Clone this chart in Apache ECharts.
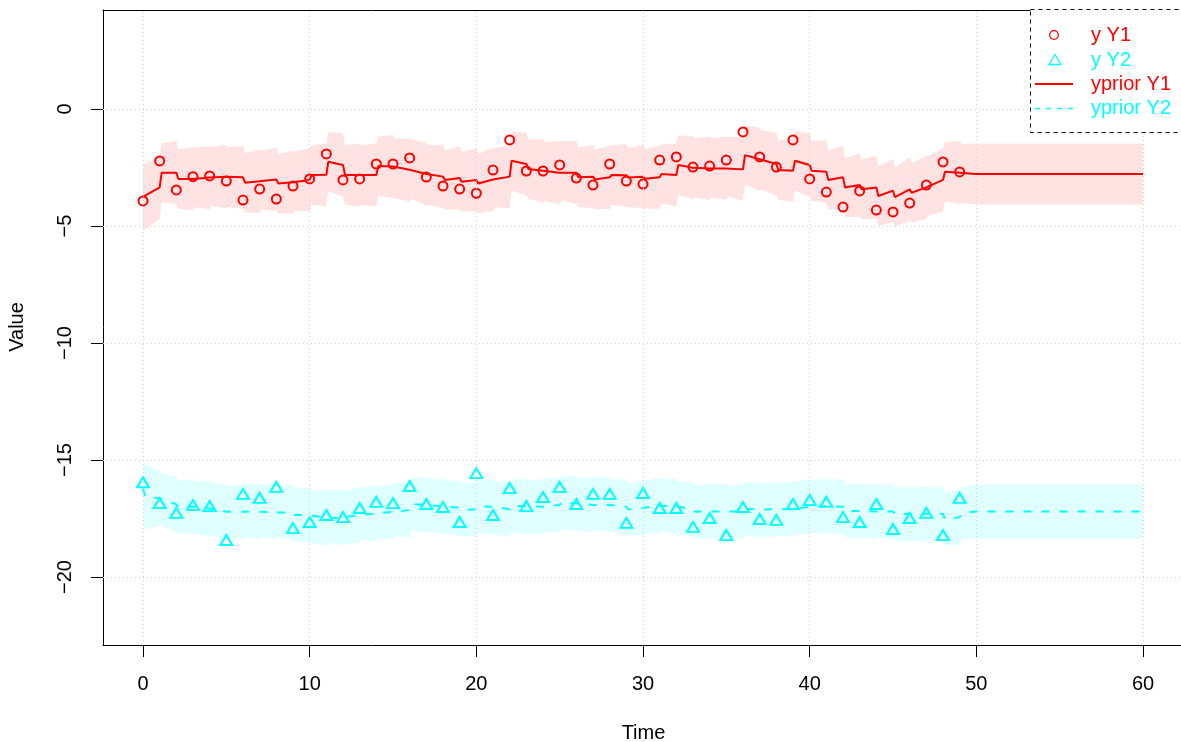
<!DOCTYPE html>
<html>
<head>
<meta charset="utf-8">
<script src="https://cdn.jsdelivr.net/npm/echarts@6/dist/echarts.min.js"></script>
<style>html,body{margin:0;padding:0;background:#fff}#c{width:1181px;height:742px}</style>
</head>
<body>
<div id="c"></div>
<script>
// ---------------- data ----------------
const obsTimes = [0,1,2,3,4,5,6,7,8,9,10,11,12,13,14,15,16,17,18,19,20,21,22,23,24,25,26,27,28,29,30,31,32,33,34,35,36,37,38,39,40,41,42,43,44,45,46,47,48,49];
const tailTimes = [50,51,52,53,54,55,56,57,58,59,60];

const y1Obs = [-3.93,-2.22,-3.46,-2.89,-2.86,-3.08,-3.89,-3.42,-3.85,-3.29,
               -2.99,-1.92,-3.03,-2.99,-2.35,-2.35,-2.09,-2.91,-3.29,-3.42,
               -3.60,-2.61,-1.32,-2.65,-2.65,-2.39,-2.95,-3.25,-2.35,-3.08,
               -3.21,-2.18,-2.05,-2.48,-2.44,-2.18,-0.98,-2.05,-2.48,-1.32,
               -2.99,-3.55,-4.19,-3.50,-4.32,-4.40,-4.02,-3.25,-2.26,-2.69];
const y2Obs = [-15.95,-16.84,-17.26,-16.92,-16.97,-18.42,-16.45,-16.62,-16.15,-17.91,
               -17.65,-17.35,-17.44,-17.05,-16.79,-16.84,-16.11,-16.88,-17.01,-17.65,
               -15.56,-17.35,-16.20,-16.97,-16.58,-16.15,-16.88,-16.45,-16.45,-17.69,
               -16.41,-17.05,-17.05,-17.86,-17.48,-18.21,-17.01,-17.52,-17.56,-16.88,
               -16.71,-16.79,-17.44,-17.65,-16.88,-17.95,-17.48,-17.26,-18.21,-16.62];

// prior mean just before and just after each observation update
const prior1Pre  = [-3.75,-3.35,-2.72,-2.99,-2.93,-2.89,-2.92,-3.09,-3.01,-3.13,
                    -3.03,-2.81,-2.39,-2.82,-2.82,-2.46,-2.60,-2.78,-2.89,-2.95,
                    -3.03,-3.01,-2.89,-2.35,-2.64,-2.72,-2.72,-2.89,-2.92,-2.83,
                    -2.89,-2.92,-2.82,-2.51,-2.54,-2.54,-2.58,-2.15,-2.35,-2.64,
                    -2.39,-2.68,-2.92,-3.25,-3.35,-3.49,-3.43,-3.35,-3.03,-2.72];
const prior1Post = [-3.75,-2.72,-2.99,-2.93,-2.89,-2.92,-3.15,-3.03,-3.18,-3.08,
                    -2.82,-2.25,-2.82,-2.82,-2.44,-2.54,-2.58,-2.82,-3.03,-3.11,
                    -3.18,-2.93,-2.21,-2.56,-2.68,-2.64,-2.92,-3.01,-2.82,-2.93,
                    -2.98,-2.78,-2.39,-2.51,-2.51,-2.46,-1.97,-2.18,-2.61,-2.21,
                    -2.64,-3.03,-3.35,-3.43,-3.72,-3.77,-3.58,-3.29,-2.68,-2.75];
const prior1Tail = [-2.78,-2.78,-2.78,-2.78,-2.78,-2.78,-2.78,-2.78,-2.78,-2.78,-2.78];

const prior2Pre  = [-16.21,-16.64,-16.89,-16.99,-17.07,-17.21,-17.21,-17.21,-17.24,-17.24,
                    -17.35,-17.49,-17.45,-17.35,-17.28,-17.21,-17.14,-16.92,-16.98,-17.05,
                    -17.10,-17.00,-17.10,-16.98,-17.00,-16.92,-16.85,-16.92,-16.92,-17.00,
                    -17.05,-16.95,-16.98,-17.10,-17.20,-17.20,-17.20,-17.12,-17.10,-17.10,
                    -17.00,-16.97,-17.00,-17.18,-17.20,-17.20,-17.30,-17.30,-17.30,-17.45];
const prior2Post = [-16.57,-16.71,-17.02,-17.02,-17.12,-17.24,-17.16,-17.16,-17.16,-17.35,
                    -17.42,-17.42,-17.49,-17.28,-17.25,-17.14,-16.88,-16.92,-17.02,-17.14,
                    -16.98,-17.07,-16.95,-17.00,-16.92,-16.82,-16.90,-16.85,-16.95,-17.11,
                    -17.00,-16.92,-17.05,-17.21,-17.18,-17.25,-17.09,-17.15,-17.12,-17.05,
                    -16.97,-16.95,-17.18,-17.20,-17.18,-17.31,-17.30,-17.30,-17.54,-17.28];
const prior2Tail = [-17.20,-17.20,-17.20,-17.20,-17.20,-17.20,-17.20,-17.20,-17.20,-17.20,-17.20];

// half-width of the prior interval band (read from the shaded ribbons)
const band1HalfPre  = [1.40,1.35,1.35,1.35,1.35,1.35,1.35,1.35,1.35,1.35,1.35,1.35,1.35,1.35,1.35,1.35,1.35,1.35,1.35,1.35,1.35,1.35,1.35,1.35,1.35,1.35,1.35,1.35,1.35,1.35,1.35,1.35,1.35,1.35,1.35,1.35,1.35,1.35,1.35,1.35,1.35,1.35,1.35,1.35,1.35,1.35,1.35,1.35,1.35,1.35];
const band1HalfPost = [1.40,1.27,1.27,1.27,1.27,1.27,1.27,1.27,1.27,1.27,1.27,1.27,1.27,1.27,1.27,1.27,1.27,1.27,1.27,1.27,1.27,1.27,1.27,1.27,1.27,1.27,1.27,1.27,1.27,1.27,1.27,1.27,1.27,1.27,1.27,1.27,1.27,1.27,1.27,1.27,1.27,1.27,1.27,1.27,1.27,1.27,1.27,1.27,1.27,1.27];
const band1HalfTail = [1.30,1.30,1.30,1.30,1.30,1.30,1.30,1.30,1.30,1.30,1.30];
const band2HalfPre  = [1.45,1.18,1.18,1.18,1.18,1.18,1.18,1.18,1.18,1.18,1.18,1.18,1.18,1.18,1.18,1.18,1.18,1.18,1.18,1.18,1.18,1.18,1.18,1.18,1.18,1.18,1.18,1.18,1.18,1.18,1.18,1.18,1.18,1.18,1.18,1.18,1.18,1.18,1.18,1.18,1.18,1.18,1.18,1.18,1.18,1.18,1.18,1.18,1.18,1.18];
const band2HalfPost = [1.40,1.12,1.12,1.12,1.12,1.12,1.12,1.12,1.12,1.12,1.12,1.12,1.12,1.12,1.12,1.12,1.12,1.12,1.12,1.12,1.12,1.12,1.12,1.12,1.12,1.12,1.12,1.12,1.12,1.12,1.12,1.12,1.12,1.12,1.12,1.12,1.12,1.12,1.12,1.12,1.12,1.12,1.12,1.12,1.12,1.12,1.12,1.12,1.12,1.12];
const band2HalfTail = [1.15,1.15,1.15,1.15,1.15,1.15,1.15,1.15,1.15,1.15,1.15];

const xTicks = [0,10,20,30,40,50,60];
const yTicks = [0,-5,-10,-15,-20];

// ---------------- build ----------------
const UPDATE_DT = 0.12;
const FONT = '"Liberation Sans", Arial, sans-serif';

function pathOf(pre, post, tail, halfPre, halfPost, halfTail, sign) {
  const out = [];
  obsTimes.forEach((t, i) => {
    out.push([t, pre[i] + sign * (halfPre ? halfPre[i] : 0)]);
    out.push([t + UPDATE_DT, post[i] + sign * (halfPost ? halfPost[i] : 0)]);
  });
  tailTimes.forEach((t, i) => out.push([t, tail[i] + sign * (halfTail ? halfTail[i] : 0)]));
  return out;
}
const line1 = pathOf(prior1Pre, prior1Post, prior1Tail, null, null, null, 0);
const line2 = pathOf(prior2Pre, prior2Post, prior2Tail, null, null, null, 0);
const up1 = pathOf(prior1Pre, prior1Post, prior1Tail, band1HalfPre, band1HalfPost, band1HalfTail, 1);
const lo1 = pathOf(prior1Pre, prior1Post, prior1Tail, band1HalfPre, band1HalfPost, band1HalfTail, -1);
const up2 = pathOf(prior2Pre, prior2Post, prior2Tail, band2HalfPre, band2HalfPost, band2HalfTail, 1);
const lo2 = pathOf(prior2Pre, prior2Post, prior2Tail, band2HalfPre, band2HalfPost, band2HalfTail, -1);

function band(upper, lower, color) {
  return {
    type: 'custom', coordinateSystem: 'cartesian2d', silent: true, clip: true,
    data: [[0, 0]],
    renderItem: (params, api) => {
      const pts = upper.map(p => api.coord(p)).concat(lower.slice().reverse().map(p => api.coord(p)));
      return { type: 'polygon', shape: { points: pts }, style: { fill: color } };
    }
  };
}

const minusFmt = v => String(v).replace('-', '\u2212');

const chart = echarts.init(document.getElementById('c'), null, { renderer: 'canvas' });
chart.setOption({
  animation: false,
  backgroundColor: '#fff',
  textStyle: { fontFamily: FONT },
  grid: { left: 103, top: 10, width: 1080, height: 635, outerBoundsMode: 'none', containLabel: false,
          show: false },
  xAxis: [{
    type: 'value', min: -2.4, max: 62.4, position: 'bottom',
    axisLine: { show: true, onZero: false, lineStyle: { color: '#000', width: 1 } },
    axisTick: { show: true, length: 12, customValues: xTicks, lineStyle: { color: '#000' } },
    axisLabel: { customValues: xTicks, margin: 29, color: '#000', fontSize: 20, fontFamily: FONT },
    splitLine: { show: false }
  }, {
    type: 'value', min: -2.4, max: 62.4, position: 'top',
    axisLine: { show: true, onZero: false, lineStyle: { color: '#000', width: 1 } },
    axisTick: { show: false }, axisLabel: { show: false }, splitLine: { show: false }
  }],
  yAxis: {
    type: 'value', min: -22.906, max: 4.231,
    axisLine: { show: true, onZero: false, lineStyle: { color: '#000', width: 1 } },
    axisTick: { show: true, length: 12, customValues: yTicks, lineStyle: { color: '#000' } },
    axisLabel: { customValues: yTicks, rotate: 90, margin: 28, color: '#000', fontSize: 20, fontFamily: FONT, formatter: minusFmt },
    splitLine: { show: false }
  },
  series: [
    band(up1, lo1, 'rgba(255,0,0,0.11)'),
    band(up2, lo2, 'rgba(0,255,255,0.12)'),
    {
      type: 'line', data: line1, showSymbol: false, symbol: 'none', silent: true,
      lineStyle: { color: '#ff0000', width: 2 },
      markLine: {
        silent: true, symbol: ['none', 'none'], label: { show: false }, animation: false,
        lineStyle: { color: '#d3d3d3', type: [1, 3], width: 1 },
        emphasis: { disabled: true },
        data: xTicks.map(v => ({ xAxis: v })).concat(yTicks.map(v => ({ yAxis: v })))
      }
    },
    {
      type: 'line', data: line2, showSymbol: false, symbol: 'none', silent: true,
      lineStyle: { color: '#00ffff', width: 2, type: [8, 10] }
    },
    {
      type: 'scatter', data: obsTimes.map((t, i) => [t, y1Obs[i]]),
      symbol: 'circle', symbolSize: 9, silent: true,
      itemStyle: { color: 'rgba(0,0,0,0)', borderColor: '#ff0000', borderWidth: 2, opacity: 1 }
    },
    {
      type: 'scatter', data: obsTimes.map((t, i) => [t, y2Obs[i]]),
      symbol: 'triangle', symbolSize: [12, 10], silent: true,
      itemStyle: { color: 'rgba(0,0,0,0)', borderColor: '#00ffff', borderWidth: 2, opacity: 1 }
    }
  ],
  graphic: [
    { type: 'text', x: 643.5, y: 733.5, style: { text: 'Time', font: '20px ' + FONT, fill: '#000', align: 'center', verticalAlign: 'middle' } },
    { type: 'text', x: 17.5, y: 327, rotation: Math.PI / 2, style: { text: 'Value', font: '20px ' + FONT, fill: '#000', align: 'center', verticalAlign: 'middle' } },
    { type: 'rect', z: 100, shape: { x: 1030.5, y: 9.5, width: 300, height: 123 }, style: { fill: '#fff', stroke: '#000', lineWidth: 1, lineDash: [4, 4] } },
    { type: 'circle', z: 101, shape: { cx: 1054, cy: 35, r: 4.3 }, style: { fill: 'none', stroke: '#ff0000', lineWidth: 1.3 } },
    { type: 'polygon', z: 101, shape: { points: [[1055, 54.5], [1049, 64.5], [1061, 64.5]] }, style: { fill: 'none', stroke: '#00ffff', lineWidth: 1.3 } },
    { type: 'line', z: 101, shape: { x1: 1035, y1: 84, x2: 1073, y2: 84 }, style: { stroke: '#ff0000', lineWidth: 2 } },
    { type: 'line', z: 101, shape: { x1: 1035, y1: 108.5, x2: 1073, y2: 108.5 }, style: { stroke: '#00ffff', lineWidth: 1.5, lineDash: [5, 6] } },
    { type: 'text', z: 101, x: 1091, y: 35, style: { text: 'y Y1', font: '20px ' + FONT, fill: '#ff0000', verticalAlign: 'middle' } },
    { type: 'text', z: 101, x: 1091, y: 60, style: { text: 'y Y2', font: '20px ' + FONT, fill: '#00ffff', verticalAlign: 'middle' } },
    { type: 'text', z: 101, x: 1091, y: 84, style: { text: 'yprior Y1', font: '20px ' + FONT, fill: '#ff0000', verticalAlign: 'middle' } },
    { type: 'text', z: 101, x: 1091, y: 108, style: { text: 'yprior Y2', font: '20px ' + FONT, fill: '#00ffff', verticalAlign: 'middle' } }
  ]
});
</script>
</body>
</html>
